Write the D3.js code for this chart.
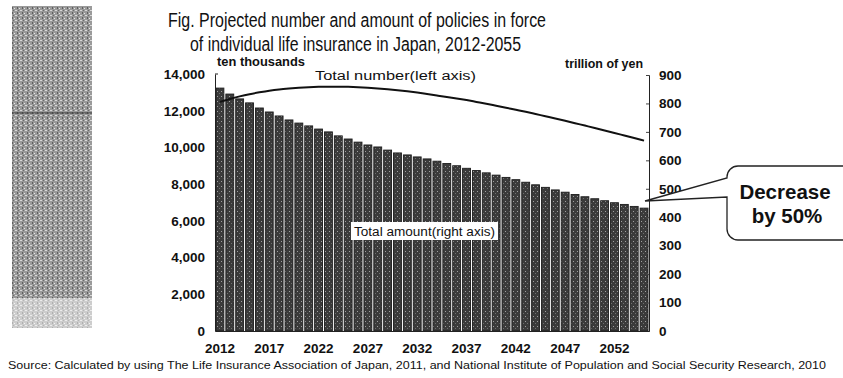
<!DOCTYPE html>
<html>
<head>
<meta charset="utf-8">
<script src="https://cdn.jsdelivr.net/npm/d3@7"></script>
<style>
  body { margin: 0; background: #fff; }
  svg { display: block; }
  text { font-family: "Liberation Sans", Arial, sans-serif; fill: #111; }
</style>
</head>
<body>
<div id="chart"></div>
<script>
const years = d3.range(2012, 2056)
// total amount, trillion of yen (right axis)
const amount = [854, 833, 816, 802, 784, 770, 756, 742, 731, 721, 710, 700, 686, 675, 664, 654,
  647, 636, 626, 619, 612, 605, 597, 589, 581, 572, 564, 556, 548, 540, 532, 523, 514, 505,
  496, 488, 480, 472, 465, 458, 451, 445, 438, 432]
// total number, ten thousands (left axis)
const number = [12480, 12640, 12780, 12900, 13000, 13090, 13160, 13210, 13250, 13280, 13300,
  13310, 13310, 13300, 13280, 13250, 13210, 13170, 13120, 13060, 12990, 12910, 12830, 12750,
  12670, 12580, 12480, 12380, 12270, 12160, 12050, 11940, 11820, 11700, 11580, 11450, 11320,
  11190, 11060, 10920, 10790, 10650, 10510, 10370]
const leftTicks = [0, 2000, 4000, 6000, 8000, 10000, 12000, 14000]
const rightTicks = [0, 100, 200, 300, 400, 500, 600, 700, 800, 900]
const yearTicks = [2012, 2017, 2022, 2027, 2032, 2037, 2042, 2047, 2052]

const W = 843, H = 378
const PLOT = {LEFT: 215, RIGHT: 649, TOP: 74, BOTTOM: 331}

const svg = d3.select("#chart").append("svg")
  .attr("width", W).attr("height", H)

// textures
const defs = svg.append("defs")
const barPat = defs.append("pattern").attr("id", "barTex")
  .attr("patternUnits", "userSpaceOnUse").attr("width", 4).attr("height", 5)
barPat.append("rect").attr("width", 4).attr("height", 5).attr("fill", "#3b3b3b")
barPat.append("rect").attr("x", 1).attr("y", 1).attr("width", 1).attr("height", 1).attr("fill", "#a0a0a0")
barPat.append("rect").attr("x", 3).attr("y", 3).attr("width", 1).attr("height", 1).attr("fill", "#707070")
const noisePat = defs.append("pattern").attr("id", "noiseTex")
  .attr("patternUnits", "userSpaceOnUse").attr("width", 5).attr("height", 5)
noisePat.append("rect").attr("width", 5).attr("height", 5).attr("fill", "#9a9a9a")
noisePat.append("rect").attr("x", 0).attr("y", 0).attr("width", 2).attr("height", 1).attr("fill", "#d8d8d8")
noisePat.append("rect").attr("x", 2).attr("y", 2).attr("width", 1).attr("height", 2).attr("fill", "#5e5e5e")
noisePat.append("rect").attr("x", 4).attr("y", 3).attr("width", 1).attr("height", 1).attr("fill", "#e8e8e8")
noisePat.append("rect").attr("x", 3).attr("y", 0).attr("width", 1).attr("height", 1).attr("fill", "#6a6a6a")

// scanned margin artefact on the left
svg.append("rect").attr("x", 12).attr("y", 6).attr("width", 80).attr("height", 322)
  .attr("fill", "url(#noiseTex)")
svg.append("rect").attr("x", 12).attr("y", 298).attr("width", 80).attr("height", 30)
  .attr("fill", "#fff").attr("opacity", 0.5)
svg.append("line").attr("x1", 12).attr("x2", 92).attr("y1", 113).attr("y2", 113)
  .attr("stroke", "#333").attr("stroke-width", 1)

// title
svg.append("text").attr("x", 168).attr("y", 27)
  .attr("font-size", 20).attr("textLength", 378).attr("lengthAdjust", "spacingAndGlyphs")
  .text("Fig. Projected number and amount of policies in force")
svg.append("text").attr("x", 190).attr("y", 51)
  .attr("font-size", 20).attr("textLength", 331).attr("lengthAdjust", "spacingAndGlyphs")
  .text("of individual life insurance in Japan, 2012-2055")

const x = d3.scaleBand().domain(years).range([PLOT.LEFT, PLOT.RIGHT]).paddingInner(0.2).paddingOuter(0.1)
const yL = d3.scaleLinear().domain([0, 14000]).range([PLOT.BOTTOM, PLOT.TOP])
const yR = d3.scaleLinear().domain([0, 900]).range([PLOT.BOTTOM, PLOT.TOP + 1])

// bars
svg.append("g").selectAll("rect")
  .data(years)
  .enter().append("rect")
    .attr("x", d => x(d))
    .attr("y", (d, i) => yR(amount[i]))
    .attr("width", x.bandwidth())
    .attr("height", (d, i) => PLOT.BOTTOM - yR(amount[i]))
    .attr("fill", "url(#barTex)")
    .attr("stroke", "#1c1c1c")
    .attr("stroke-width", 0.9)

// line
const line = d3.line()
  .x((d, i) => x(years[i]) + x.bandwidth() / 2)
  .y(d => yL(d))
  .curve(d3.curveMonotoneX)
svg.append("path").datum(number)
  .attr("d", line)
  .attr("fill", "none").attr("stroke", "#111").attr("stroke-width", 2)

// axes
const leftAxis = svg.append("g").attr("transform", `translate(${PLOT.LEFT},0)`)
  .call(d3.axisLeft(yL).tickValues(leftTicks).tickSize(0).tickPadding(10)
    .tickFormat(d3.format(",")))
const rightAxis = svg.append("g").attr("transform", `translate(${PLOT.RIGHT},0)`)
  .call(d3.axisRight(yR).tickValues(rightTicks).tickSize(-3).tickPadding(10))
const bottomAxis = svg.append("g").attr("transform", `translate(0,${PLOT.BOTTOM})`)
  .call(d3.axisBottom(x).tickValues(yearTicks).tickSize(0).tickPadding(12))
for (const g of [leftAxis, rightAxis, bottomAxis]) {
  g.select(".domain").attr("stroke", "#222")
  g.selectAll("text").attr("font-size", 13.5).attr("font-weight", "bold").attr("fill", "#222")
    .attr("font-family", "\"Liberation Sans\", Arial, sans-serif")
}
rightAxis.selectAll(".tick line").attr("stroke", "#444")
// small tick at top of left axis
svg.append("line").attr("x1", PLOT.LEFT).attr("x2", PLOT.LEFT + 3)
  .attr("y1", yL(14000)).attr("y2", yL(14000)).attr("stroke", "#222")

// unit labels
svg.append("text").attr("x", 217).attr("y", 66).attr("font-size", 12.5).attr("font-weight", "bold")
  .attr("textLength", 88).attr("lengthAdjust", "spacingAndGlyphs")
  .text("ten thousands")
svg.append("text").attr("x", 643).attr("y", 68).attr("font-size", 12.5).attr("font-weight", "bold")
  .attr("text-anchor", "end").attr("textLength", 78).attr("lengthAdjust", "spacingAndGlyphs")
  .text("trillion of yen")

// series labels
svg.append("text").attr("x", 315).attr("y", 80).attr("font-size", 12.5)
  .attr("textLength", 161).attr("lengthAdjust", "spacingAndGlyphs")
  .text("Total number(left axis)")
svg.append("rect").attr("x", 351).attr("y", 222).attr("width", 147).attr("height", 18).attr("fill", "#fff")
svg.append("text").attr("x", 354).attr("y", 236).attr("font-size", 12.5)
  .attr("textLength", 141).attr("lengthAdjust", "spacingAndGlyphs")
  .text("Total amount(right axis)")

// callout
const tipX = PLOT.RIGHT - 4, tipY = 201
const bx = 727, by = 166, bw = 140, bh = 74, r = 11
const callout = d3.path()
callout.moveTo(bx, by + r)
callout.arcTo(bx, by, bx + r, by, r)
callout.lineTo(bx + bw - r, by)
callout.arcTo(bx + bw, by, bx + bw, by + r, r)
callout.lineTo(bx + bw, by + bh - r)
callout.arcTo(bx + bw, by + bh, bx + bw - r, by + bh, r)
callout.lineTo(bx + r, by + bh)
callout.arcTo(bx, by + bh, bx, by + bh - r, r)
callout.lineTo(bx, 197)
callout.lineTo(tipX, tipY)
callout.lineTo(bx, 178)
callout.closePath()
svg.append("path").attr("d", callout.toString())
  .attr("fill", "#fff").attr("stroke", "#222").attr("stroke-width", 1.3)
svg.append("text").attr("x", 785).attr("y", 199).attr("text-anchor", "middle")
  .attr("font-size", 20.5).attr("font-weight", "bold").text("Decrease")
svg.append("text").attr("x", 787).attr("y", 223).attr("text-anchor", "middle")
  .attr("font-size", 20.5).attr("font-weight", "bold").text("by 50%")

// source
svg.append("text").attr("x", 8).attr("y", 369).attr("font-size", 11)
  .attr("textLength", 818).attr("lengthAdjust", "spacingAndGlyphs")
  .text("Source: Calculated by using The Life Insurance Association of Japan, 2011, and National Institute of Population and Social Security Research, 2010")
</script>
</body>
</html>
